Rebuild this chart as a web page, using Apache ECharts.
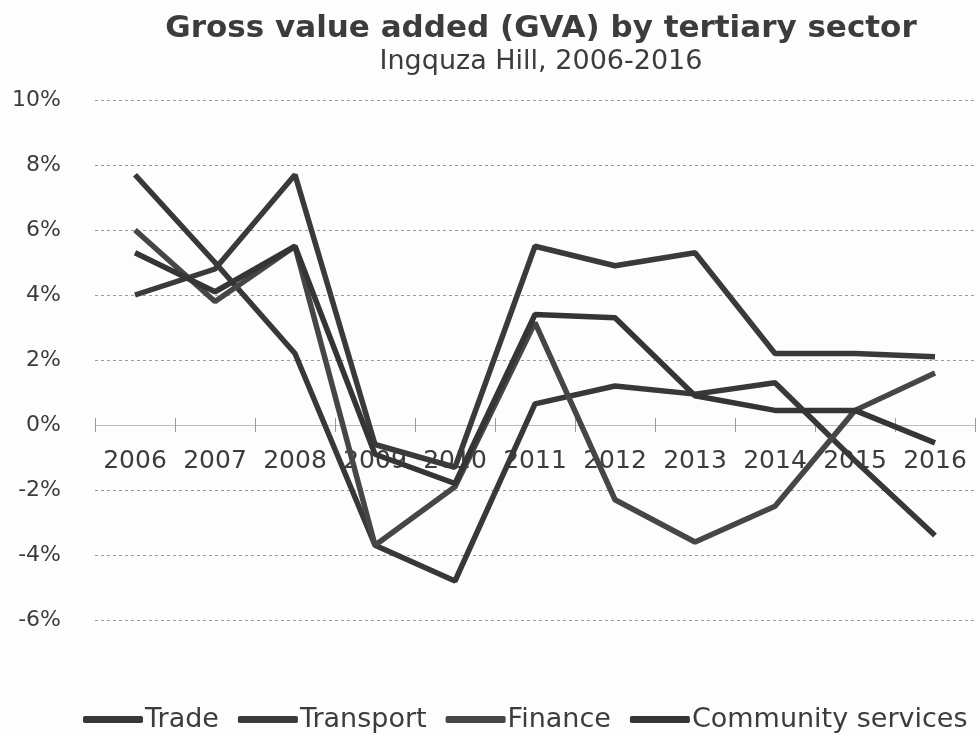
<!DOCTYPE html>
<html>
<head>
<meta charset="utf-8">
<script src="https://cdn.jsdelivr.net/npm/echarts@6/dist/echarts.min.js"></script>
<style>
  html, body { margin: 0; padding: 0; background: #fdfdfd; }
  #chart { width: 978px; height: 735px; }
</style>
</head>
<body>
<div id="chart"></div>
<script>
// Annual GVA growth by tertiary sector, Ingquza Hill
const years = ['2006', '2007', '2008', '2009', '2010', '2011', '2012', '2013', '2014', '2015', '2016'];
const trade     = [7.7, 5.0, 2.2, -3.7, -4.8, 0.65, 1.2, 0.95, 1.3, -1.1, -3.4];
const transport = [4.0, 4.8, 7.7, -0.6, -1.3, 5.5, 4.9, 5.3, 2.2, 2.2, 2.1];
const finance   = [6.0, 3.8, 5.5, -3.7, -1.9, 3.15, -2.3, -3.6, -2.5, 0.45, 1.6];
const community = [5.3, 4.1, 5.5, -0.9, -1.8, 3.4, 3.3, 0.9, 0.45, 0.45, -0.55];
const seriesNames = ['Trade', 'Transport', 'Finance', 'Community services'];
const seriesData = [trade, transport, finance, community];
const seriesColors = ['#383838', '#3a3a3a', '#464646', '#353535'];

const FONT = '"DejaVu Sans", Verdana, sans-serif';
const Y_MIN = -6, Y_MAX = 10;
const GRID = { left: 95, right: 3, top: 100, bottom: 115 };
const plotHeight = 735 - GRID.top - GRID.bottom;
// shift the category axis from the grid bottom up to the zero line
const zeroOffset = -plotHeight * (0 - Y_MIN) / (Y_MAX - Y_MIN);

const chart = echarts.init(document.getElementById('chart'));

chart.setOption({
  backgroundColor: '#fdfdfd',
  animation: false,
  title: {
    text: 'Gross value added (GVA) by tertiary sector',
    subtext: 'Ingquza Hill, 2006-2016',
    left: 536,
    top: 8,
    textAlign: 'center',
    itemGap: 4,
    textStyle: { fontFamily: FONT, fontSize: 31, fontWeight: 'bold', color: '#3c3c3c' },
    subtextStyle: { fontFamily: FONT, fontSize: 27, color: '#3c3c3c' }
  },
  legend: {
    top: 701,
    left: 78,
    icon: 'roundRect',
    itemWidth: 60,
    itemHeight: 7,
    itemGap: 19,
    textStyle: { fontFamily: FONT, fontSize: 27, color: '#3c3c3c', padding: [0, 0, 0, -3] },
    data: seriesNames
  },
  grid: GRID,
  xAxis: [{
    type: 'category',
    data: years,
    boundaryGap: true,
    offset: zeroOffset,
    axisLine: { onZero: false, lineStyle: { color: '#bdbdbd', width: 1 } },
    axisTick: { show: true, length: 7, lineStyle: { color: '#9a9a9a' } },
    axisLabel: { interval: 0, fontFamily: FONT, fontSize: 25, color: '#3c3c3c', margin: 24 }
  }, {
    type: 'category',
    data: years,
    boundaryGap: true,
    position: 'bottom',
    offset: zeroOffset,
    axisLine: { show: false, onZero: false },
    axisTick: { show: true, inside: true, length: 7, lineStyle: { color: '#9a9a9a' } },
    axisLabel: { show: false }
  }],
  yAxis: {
    type: 'value',
    min: Y_MIN,
    max: Y_MAX,
    interval: 2,
    axisLine: { show: false },
    axisTick: { show: false },
    axisLabel: {
      fontFamily: FONT, fontSize: 22, color: '#3c3c3c', margin: 34,
      formatter: v => v + '%'
    },
    splitLine: { lineStyle: { color: '#9a9a9a', type: [3, 3], width: 1 } }
  },
  series: seriesNames.map((name, i) => ({
    name: name,
    type: 'line',
    data: seriesData[i],
    symbol: 'none',
    color: seriesColors[i],
    lineStyle: { width: 5.5, color: seriesColors[i] },
    z: 3
  }))
});
</script>
</body>
</html>
